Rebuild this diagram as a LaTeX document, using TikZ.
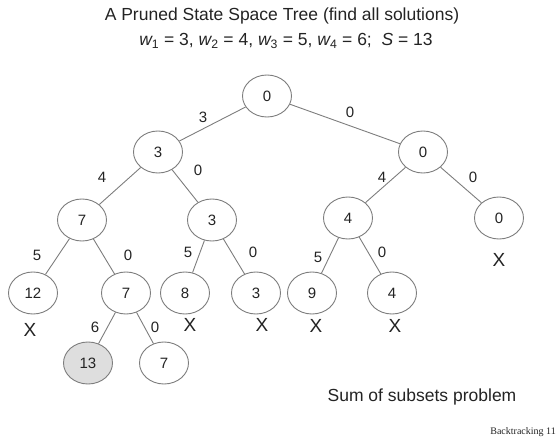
\documentclass[tikz,border=0pt]{standalone}
\usepackage{fontspec}
\setmainfont{Liberation Sans}
\newfontfamily\footserif{Liberation Serif}
\usetikzlibrary{shapes.geometric}
\definecolor{linegray}{RGB}{125,125,125}
\definecolor{txt}{RGB}{35,35,35}
\definecolor{shade}{RGB}{222,222,222}
\begin{document}
\begin{tikzpicture}[x=1pt,y=-1pt,
  st/.style={ellipse, draw=linegray, line width=0.9pt, minimum width=49pt, minimum height=42pt, inner sep=0pt, text=txt, font=\fontsize{15}{15}\selectfont},
  conn/.style={draw=linegray, line width=0.9pt},
  lab/.style={font=\fontsize{15}{15}\selectfont, inner sep=0pt, text=txt},
  cross/.style={font=\fontsize{19}{19}\selectfont, inner sep=0pt, text=txt},
  ttl/.style={font=\fontsize{17.5}{17.5}\selectfont, inner sep=0pt, text=txt}]
\useasboundingbox (0,0) rectangle (558,441);
% titles
\node[ttl] (t1) at (282,16) {A Pruned State Space Tree (find all solutions)};
\node[ttl] (t2) at (286,41) {\itshape w\textsubscript{\upshape 1}\upshape{} = 3, \itshape w\textsubscript{\upshape 2}\upshape{} = 4, \itshape w\textsubscript{\upshape 3}\upshape{} = 5, \itshape w\textsubscript{\upshape 4}\upshape{} = 6;\ \ \itshape S\upshape{} = 13};
% nodes
\node[st] (r) at (267,96) {0};
\node[st] (a) at (158,152) {3};
\node[st] (b) at (423,152) {0};
\node[st] (aa) at (82,220) {7};
\node[st] (ab) at (212,220) {3};
\node[st] (ba) at (348,218) {4};
\node[st] (bb) at (499,218) {0};
\node[st] (aaa) at (33,293) {12};
\node[st] (aab) at (126,293) {7};
\node[st] (aba) at (185,293) {8};
\node[st] (abb) at (256,293) {3};
\node[st] (baa) at (312,293) {9};
\node[st] (bab) at (392,293) {4};
\node[st, fill=shade] (aaba) at (88,363) {13};
\node[st] (aabb) at (164,363) {7};
% connectors
\draw[conn] (r) -- (a);
\draw[conn] (r) -- (b);
\draw[conn] (a) -- (aa);
\draw[conn] (a) -- (ab);
\draw[conn] (b) -- (ba);
\draw[conn] (b) -- (bb);
\draw[conn] (aa) -- (aaa);
\draw[conn] (aa) -- (aab);
\draw[conn] (ab) -- (aba);
\draw[conn] (ab) -- (abb);
\draw[conn] (ba) -- (baa);
\draw[conn] (ba) -- (bab);
\draw[conn] (aab) -- (aaba);
\draw[conn] (aab) -- (aabb);
% edge labels
\node[lab] (l1) at (203,117) {3};
\node[lab] (l2) at (350,112) {0};
\node[lab] (l3) at (102,177) {4};
\node[lab] (l4) at (198,170) {0};
\node[lab] (l5) at (382,177) {4};
\node[lab] (l6) at (473,177) {0};
\node[lab] (l7) at (37,255) {5};
\node[lab] (l8) at (128,255) {0};
\node[lab] (l9) at (188,252) {5};
\node[lab] (l10) at (253,252) {0};
\node[lab] (l11) at (318,257) {5};
\node[lab] (l12) at (382,252) {0};
\node[lab] (l13) at (95,327) {6};
\node[lab] (l14) at (155,327) {0};
% crosses
\node[cross] (x1) at (30,330) {X};
\node[cross] (x2) at (190,325) {X};
\node[cross] (x3) at (262,325) {X};
\node[cross] (x4) at (316,326) {X};
\node[cross] (x5) at (395,326) {X};
\node[cross] (x6) at (499,260) {X};
% footer
\node[ttl] (sub) at (422,397) {Sum of subsets problem};
\node[inner sep=0pt, anchor=east, text=txt, font=\footserif\fontsize{10}{10}\selectfont] (bt) at (556,432) {Backtracking 11};
\end{tikzpicture}
\end{document}
